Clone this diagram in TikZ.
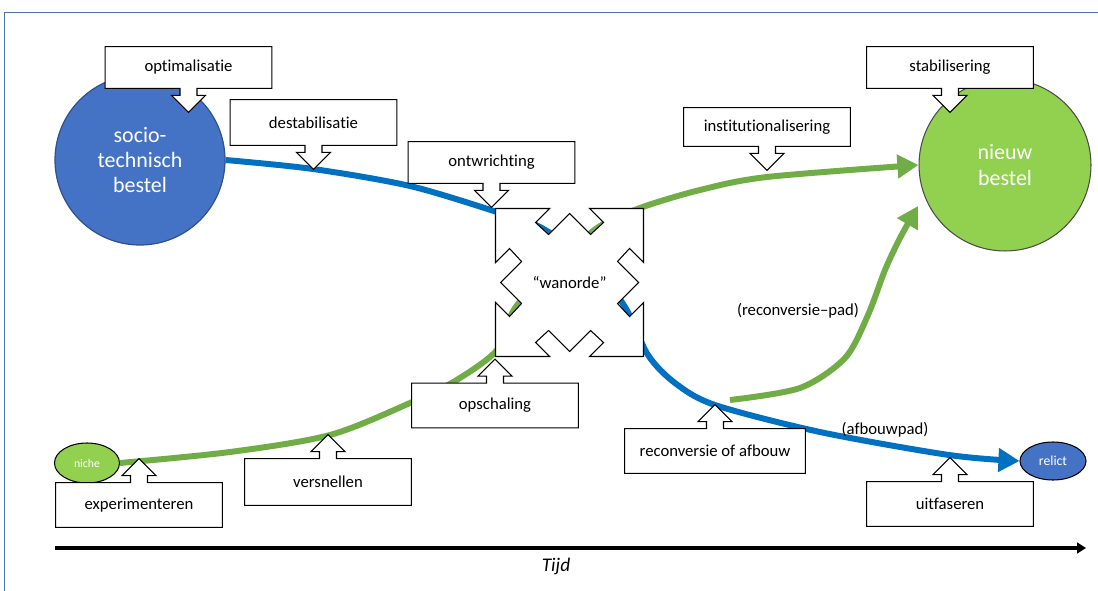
\documentclass[tikz,border=0pt]{standalone}
\usepackage{fontspec}
\setmainfont{Carlito}[Ligatures={NoCommon}]
\usetikzlibrary{arrows.meta,shapes.geometric,calc}

\definecolor{bestelblauw}{RGB}{68,114,196}
\definecolor{randblauw}{RGB}{47,82,143}
\definecolor{padblauw}{RGB}{0,112,192}
\definecolor{nieuwgroen}{RGB}{146,208,80}
\definecolor{padgroen}{RGB}{112,173,71}
\definecolor{kader}{RGB}{84,114,170}

\tikzset{
  vak/.style={minimum width=3.32cm, minimum height=0.86cm, inner sep=0pt},
  vakrand/.style={draw=black, line width=0.6pt, fill=white, line join=miter},
  vaktekst/.style={font=\fontsize{9.5}{11}\selectfont},
  pad/.style={line width=3.4pt, -{Triangle[length=12pt,width=13pt]}},
}

% vak met pijl naar beneden / naar boven
\newcommand{\vakomlaag}[2]{%
  \draw[vakrand] (#1.south west) -- (#1.north west) -- (#1.north east) -- (#1.south east)
    -- ($(#1.south)+(8.5,0)$) -- ++(0,7) -- ++(8.5,0) -- ++(-17,17) -- ++(-17,-17)
    -- ++(8.5,0) -- ++(0,-7) -- cycle;
  \node[vaktekst] at (#1.center) {#2};}
\newcommand{\vakomhoog}[2]{%
  \draw[vakrand] (#1.north west) -- (#1.south west) -- (#1.south east) -- (#1.north east)
    -- ($(#1.north)+(8.5,0)$) -- ++(0,-7) -- ++(8.5,0) -- ++(-17,-17) -- ++(-17,17)
    -- ++(8.5,0) -- ++(0,7) -- cycle;
  \node[vaktekst] at (#1.center) {#2};}

\begin{document}
\begin{tikzpicture}  % ------ transitie in de tijd -----------
      [x={(0.02cm,0cm)},y={(0cm,-0.02cm)}]
    \useasboundingbox (0,0) rectangle (1098,591);
    \draw[kader, line width=0.9pt] (4.5,591) -- (4.5,12.5) -- (1098,12.5);

    % ------ bestellen -----------
    \node[circle, minimum size=3.4cm, fill=bestelblauw, draw=randblauw, line width=0.7pt,
          text=white, align=center, font=\fontsize{12.5}{14.3}\selectfont]
          (bestel) at (140,160) {socio-\\technisch\\bestel};
    \node[circle, minimum size=3.44cm, fill=nieuwgroen, draw=black!70, line width=0.6pt,
          text=white, align=center, font=\fontsize{12.5}{14.3}\selectfont]
          (nieuw) at (1005,165) {nieuw\\bestel};
    \node[ellipse, minimum width=1.3cm, minimum height=0.8cm, inner sep=0pt, fill=nieuwgroen,
          draw=black, line width=0.6pt, text=white, font=\fontsize{6.7}{8}\selectfont]
          (niche) at (87,463) {niche};
    \node[ellipse, minimum width=1.32cm, minimum height=0.76cm, inner sep=0pt, fill=bestelblauw,
          draw=black, line width=0.6pt, text=white, font=\fontsize{7.8}{9}\selectfont]
          (relict) at (1053,461) {relict};

    % ------ paden -----------
    \coordinate (rpstart) at (730,400);
    \coordinate (rpeind) at (918,206);
    \draw[pad, padblauw] plot[smooth] coordinates {(bestel.east) (313,169) (410,186) (497,212)
          (540,227) (590,262) (625,307) (648,355) (675,383) (715,405) (820,432) (949,455) (relict.west)};
    \draw[pad, padgroen] plot[smooth] coordinates {(niche.east) (230,452) (330,435) (410,403)
          (455,381) (497,350) (515,308) (556,266) (597,228) (640,208) (700,190) (767,177) (nieuw.west)};
    \draw[pad, padgroen] plot[smooth] coordinates {(rpstart) (800,388) (845,358) (868,315)
          (885,270) (900,238) (rpeind)};

    % ------ wanorde -----------
    \begin{scope}[shift={(569.5,282.5)}]
    \draw[vakrand] (-74,-74) -- (-20,-74) -- (-34,-60) -- (-21,-48) -- (0,-69) -- (21,-48)
          -- (34,-60) -- (20,-74) -- (74,-74)
          -- (74,-20) -- (60,-34) -- (48,-21) -- (69,0) -- (48,21) -- (60,34) -- (74,20) -- (74,74)
          -- (20,74) -- (34,60) -- (21,48) -- (0,69) -- (-21,48) -- (-34,60) -- (-20,74) -- (-74,74)
          -- (-74,20) -- (-60,34) -- (-48,21) -- (-69,0) -- (-48,-21) -- (-60,-34) -- (-74,-20) -- cycle;
    \node[vaktekst] (wanorde) at (0,0) {“wanorde”};
    \end{scope}

    % ------ tekstvakken -----------
    \node[vak, minimum height=0.82cm] (opt) at (188.5,67.5) {};
    \vakomlaag{opt}{optimalisatie}
    \node[vak, minimum height=0.9cm] (destab) at (313.5,122.5) {};
    \vakomlaag{destab}{destabilisatie}
    \node[vak, minimum height=0.82cm] (ontw) at (491.5,162.5) {};
    \vakomlaag{ontw}{ontwrichting}
    \node[vak, minimum height=0.76cm] (inst) at (767,127) {};
    \vakomlaag{inst}{institutionalisering}
    \node[vak, minimum height=0.82cm] (stab) at (950,67.5) {};
    \vakomlaag{stab}{stabilisering}
    \node[vak, minimum height=0.88cm] (opsch) at (495,405.5) {};
    \vakomhoog{opsch}{opschaling}
    \node[vak, minimum height=0.92cm] (versn) at (328,482) {};
    \vakomhoog{versn}{versnellen}
    \node[vak, minimum height=0.88cm] (exp) at (139,505) {};
    \vakomhoog{exp}{experimenteren}
    \node[vak, minimum width=3.6cm, minimum height=0.88cm] (reconv) at (715,451) {};
    \vakomhoog{reconv}{reconversie of afbouw}
    \node[vak, minimum height=0.88cm] (uitf) at (950,504) {};
    \vakomhoog{uitf}{uitfaseren}

    \node[vaktekst] (rplabel) at (798,311) {(reconversie--pad)};
    \node[vaktekst] (aplabel) at (885,430) {(afbouwpad)};

    % ------ tijdas -----------
    \coordinate (t0) at (55,548);
    \coordinate (t1) at (1086,548);
    \draw[line width=2pt, -{Triangle[length=5pt,width=6pt]}] (t0) -- (t1);
    \node[font=\fontsize{11}{13}\selectfont\itshape] (tijd) at (556,566) {Tijd};
\end{tikzpicture}
\end{document}
